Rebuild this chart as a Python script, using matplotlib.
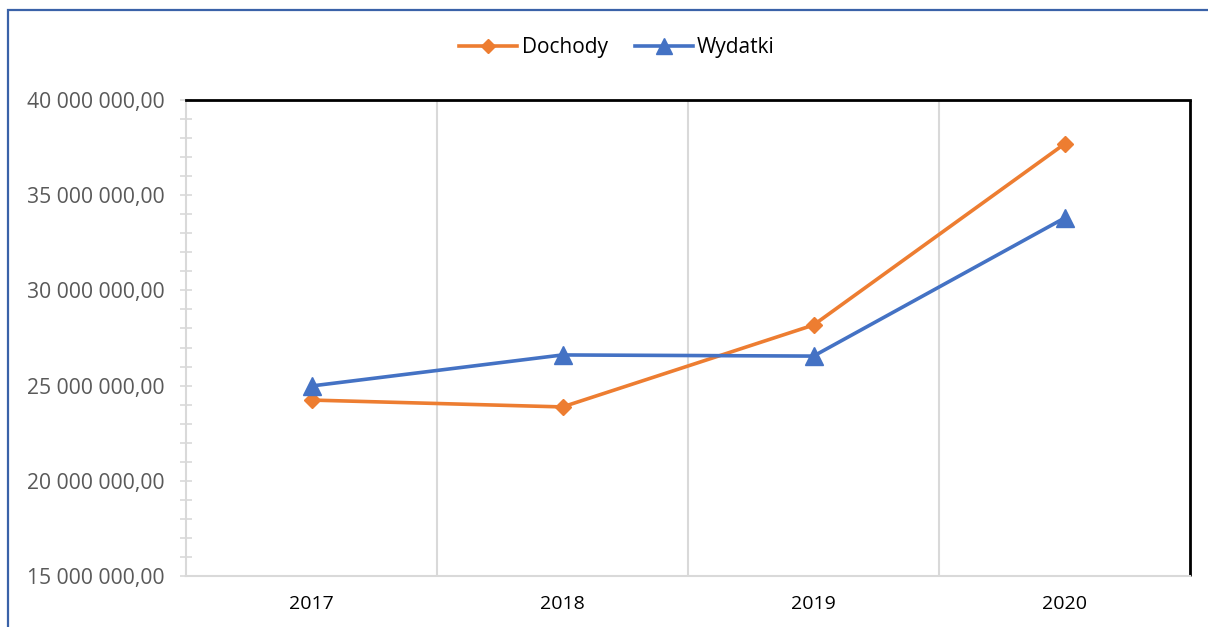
import matplotlib
matplotlib.use("Agg")
import matplotlib.pyplot as plt
from matplotlib.ticker import MultipleLocator, FuncFormatter
from matplotlib.patches import Rectangle

years = ["2017", "2018", "2019", "2020"]
dochody = [24240000, 23880000, 28180000, 37690000]
wydatki = [24980000, 26610000, 26550000, 33800000]

plt.rcParams['font.family'] = ['Open Sans', 'DejaVu Sans']

fig = plt.figure(figsize=(12.08, 6.27), dpi=100)
ax = fig.add_axes([186/1208, 1-576/627, (1190-186)/1208, (576-100)/627])

x = list(range(len(years)))
ax.plot(x, dochody, color='#ED7D31', lw=2.6, marker='D', markersize=8.6,
        label='Dochody', zorder=3, solid_joinstyle='round')
ax.plot(x, wydatki, color='#4472C4', lw=2.6, marker='^', markersize=13,
        label='Wydatki', zorder=3, solid_joinstyle='round')

ax.set_xlim(-0.5, 3.5)
ax.set_ylim(15000000, 40000000)
ax.yaxis.set_major_locator(MultipleLocator(5000000))
ax.yaxis.set_minor_locator(MultipleLocator(1000000))

def fmt(v, pos):
    s = f"{int(round(v)):,}".replace(",", " ")
    return s + ",00"
ax.yaxis.set_major_formatter(FuncFormatter(fmt))

ax.set_xticks(x)
ax.set_xticklabels(years)
for b in [0.5, 1.5, 2.5]:
    ax.axvline(b, color='#D9D9D9', lw=1.5, zorder=1)

ax.tick_params(axis='y', which='both', direction='inout', length=9, width=1.2,
               color='#D9D9D9', labelsize=15.2, labelcolor='#595959', pad=11)
ax.tick_params(axis='x', which='both', length=0, labelsize=14, labelcolor='#000000', pad=14)

for s in ['left', 'bottom']:
    ax.spines[s].set_color('#D9D9D9')
    ax.spines[s].set_linewidth(1.5)
for s in ['top', 'right']:
    ax.spines[s].set_color('#000000')
    ax.spines[s].set_linewidth(2)
ax.spines['right'].set_capstyle('butt')

leg = fig.legend(loc='center', bbox_to_anchor=(617/1208, 1-48/627), ncol=2,
                 frameon=False, fontsize=15, handlelength=2.8, handletextpad=0.2,
                 columnspacing=1.3, markerscale=0.85)

fig.patches.append(Rectangle((8/1208, -0.1), 1.2, 1 - 10/627 + 0.1,
                             transform=fig.transFigure, fill=False,
                             edgecolor='#3A62A8', lw=1.6, zorder=10))

fig.savefig("out.png", dpi=100)
